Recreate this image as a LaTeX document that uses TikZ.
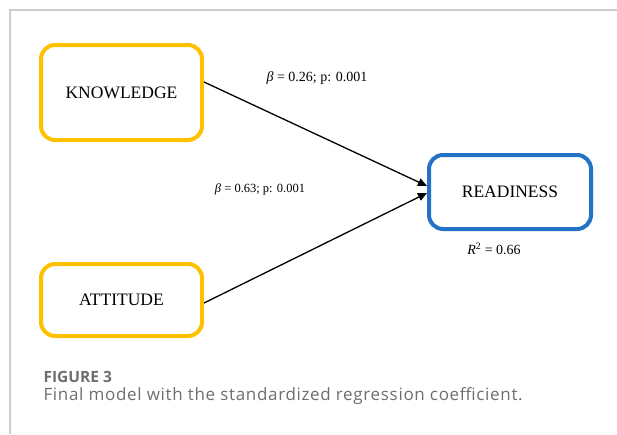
\documentclass[tikz,border=0pt]{standalone}
\usepackage{fontspec}
\setmainfont{Liberation Serif}
\newfontfamily\capfont{Open Sans}
\newfontfamily\captextfont[LetterSpace=4]{Open Sans}
\usetikzlibrary{arrows.meta}

\definecolor{boxyellow}{HTML}{FFC000}
\definecolor{boxblue}{HTML}{2272C6}
\definecolor{capgray}{HTML}{6E6E6E}

\begin{document}
\begin{tikzpicture}[x=1pt,y=-1pt,
    var/.style={draw=#1,line width=4pt,rounded corners=14pt,minimum width=161pt,
      font=\fontsize{17.5}{20}\selectfont},
    path/.style={line width=1.3pt,-{Triangle[length=9pt,width=8pt]}},
    coef/.style={font=\fontsize{#1}{15}\selectfont}]

            \useasboundingbox (0,0) rectangle (617,434);
            \draw[gray!40,line width=1.2pt] (617,10) -- (10,10) -- (10,434);

            \node[var=boxyellow,minimum height=95pt] (know) at (121.5,92.5) {KNOWLEDGE};
            \node[var=boxyellow,minimum height=72pt] (att) at (121.5,300) {ATTITUDE};
            \node[var=boxblue,minimum width=162pt,minimum height=74pt] (ready) at (510,192) {READINESS};

            \draw[path] ([yshift=10.5pt]know.east) -- ([yshift=6pt]ready.west);
            \draw[path] ([yshift=-3pt]att.east) -- ([yshift=-1pt]ready.west);

            \node[coef=14] (b1) at (317,78) {\textit{β} = 0.26; p: 0.001};
            \node[coef=12.5] (b2) at (260,189) {\textit{β} = 0.63; p: 0.001};
            \node[coef=14] (r2) at (494,249) {\textit{R}\textsuperscript{2} = 0.66};

            % caption
            \node[anchor=west,text=capgray,font=\capfont\bfseries\fontsize{15.5}{18}\selectfont] (fig) at (40,377) {FIGURE 3};
            \node[anchor=west,text=capgray,font=\captextfont\fontsize{17}{19}\selectfont] (cap) at (40,396) {Final model with the standardized regression coefficient.};
        \end{tikzpicture}
\end{document}
